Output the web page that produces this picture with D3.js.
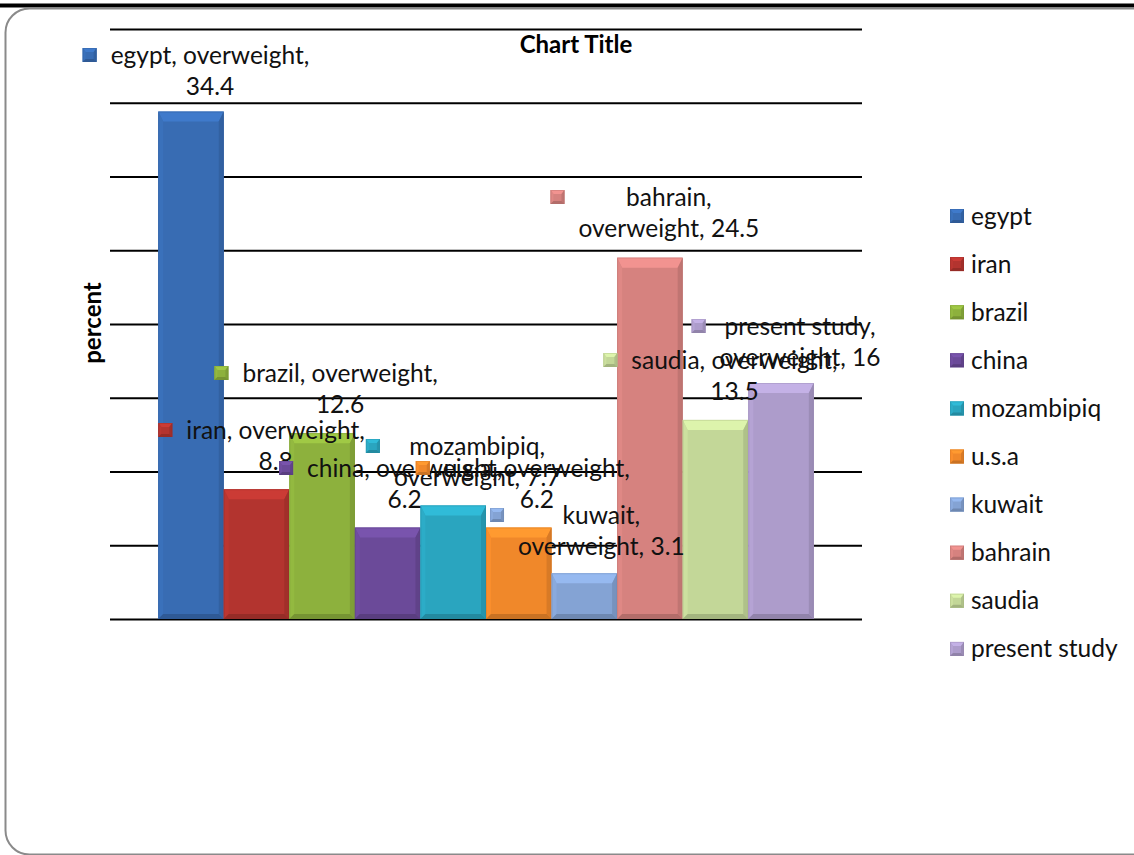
<!DOCTYPE html>
<html>
<head>
<meta charset="utf-8">
<script src="https://cdn.jsdelivr.net/npm/d3@7"></script>
<style>
  html, body { margin: 0; padding: 0; background: #ffffff; }
  svg { display: block; font-family: Lato, "Open Sans", sans-serif; }
</style>
</head>
<body>
<svg id="chart" width="1134" height="855"></svg>
<script>
// Overweight prevalence (percent) by study population
const categories = ["egypt", "iran", "brazil", "china", "mozambipiq", "u.s.a", "kuwait", "bahrain", "saudia", "present study"];
const values = [34.4, 8.8, 12.6, 6.2, 7.7, 6.2, 3.1, 24.5, 13.5, 16];
const seriesName = "overweight";
const gridTicks = [0, 5, 10, 15, 20, 25, 30, 35, 40];
const barColors = ["#386cb3", "#b3342f", "#8db13d", "#6b4a99", "#2aa5bf", "#f0882a", "#84a3d4", "#d6827f", "#c3d798", "#ad9ccb"];

// Data label placement: shift from bar centre, centre of first text line, wrap style
const labelLayout = [
  { dx: 19, y: 55,  wrap: "afterSeries" },
  { dx: 19, y: 430, wrap: "afterSeries" },
  { dx: 18, y: 373, wrap: "afterSeries" },
  { dx: 17, y: 468, wrap: "afterSeries" },
  { dx: 24, y: 446, wrap: "afterName" },
  { dx: 18, y: 468, wrap: "afterSeries" },
  { dx: 17, y: 515, wrap: "afterName" },
  { dx: 19, y: 197, wrap: "afterName" },
  { dx: 19, y: 360, wrap: "afterSeries" },
  { dx: 19, y: 326, wrap: "afterName" }
];

const W = 1134, H = 855;
const plot = { left: 110, right: 862, top: 29, bottom: 619 };
const fontSize = 24.5;
const lineGap = 31.5;

const svg = d3.select("#chart");

// outer frame
svg.append("rect").attr("x", 0).attr("y", 3.5).attr("width", W).attr("height", 4).attr("fill", "#000");
svg.append("rect")
  .attr("x", 5.5).attr("y", 8.5).attr("width", 1160).attr("height", 846)
  .attr("rx", 24).attr("ry", 24)
  .attr("fill", "none").attr("stroke", "#8a8a8a").attr("stroke-width", 2);

const x = d3.scaleBand()
  .domain(categories)
  .range([plot.left, plot.right])
  .paddingInner(0)
  .paddingOuter(0.735);

const y = d3.scaleLinear()
  .domain([0, 40])
  .range([plot.bottom, plot.top]);

// horizontal gridlines (no tick labels)
const yAxis = d3.axisLeft(y).tickValues(gridTicks).tickSize(-(plot.right - plot.left)).tickFormat("");
const ga = svg.append("g").attr("transform", `translate(${plot.left},0)`).call(yAxis);
ga.select(".domain").remove();
ga.selectAll(".tick line").attr("stroke", "#000").attr("stroke-width", 2);

// bevelled box like an Office "circle" bevel
function bevelBox(g, bx, by, bw, bh, color, bt, bs, bb) {
  const c = d3.color(color);
  g.append("rect").attr("x", bx).attr("y", by).attr("width", bw).attr("height", bh).attr("fill", c.formatHex());
  const poly = (pts, fill) => g.append("polygon").attr("points", pts.map(p => p.join(",")).join(" ")).attr("fill", fill);
  poly([[bx, by], [bx + bw, by], [bx + bw - bs, by + bt], [bx + bs, by + bt]], c.brighter(0.35).formatHex());
  poly([[bx, by], [bx + bs, by + bt], [bx + bs, by + bh - bb], [bx, by + bh]], c.brighter(0.12).formatHex());
  poly([[bx + bw, by], [bx + bw - bs, by + bt], [bx + bw - bs, by + bh - bb], [bx + bw, by + bh]], c.darker(0.3).formatHex());
  poly([[bx, by + bh], [bx + bs, by + bh - bb], [bx + bw - bs, by + bh - bb], [bx + bw, by + bh]], c.darker(0.5).formatHex());
  g.append("rect").attr("x", bx + 0.5).attr("y", by + 0.5).attr("width", bw - 1).attr("height", bh - 1)
    .attr("fill", "none").attr("stroke", c.darker(0.5).formatHex()).attr("stroke-opacity", 0.35);
}

// bars
const barsG = svg.append("g");
categories.forEach((cat, i) => {
  const g = barsG.append("g");
  const bx = x(cat), bw = x.bandwidth();
  const by = y(values[i]), bh = y(0) - y(values[i]);
  bevelBox(g, bx, by, bw, bh, barColors[i], Math.min(10, bh / 3), 5, 5);
});

// data labels with legend keys
const labelsG = svg.append("g");
categories.forEach((cat, i) => {
  const lay = labelLayout[i];
  const lines = lay.wrap === "afterName"
    ? [`${cat},`, `${seriesName}, ${values[i]}`]
    : [`${cat}, ${seriesName},`, `${values[i]}`];
  const cx = x(cat) + x.bandwidth() / 2 + lay.dx;
  const g = labelsG.append("g");
  const texts = lines.map((t, k) => g.append("text")
    .attr("x", cx).attr("y", lay.y + k * lineGap)
    .attr("dy", "0.35em")
    .attr("text-anchor", "middle")
    .attr("font-size", fontSize)
    .attr("fill", "#111")
    .text(t));
  const maxW = d3.max(texts, t => t.node().getComputedTextLength());
  const kx = cx - maxW / 2 - 28;
  const kg = g.insert("g", "text");
  bevelBox(kg, kx, lay.y - 7, 14, 14, barColors[i], 4, 3, 3);
});

// title
svg.append("text")
  .attr("x", 576).attr("y", 45).attr("dy", "0.35em")
  .attr("text-anchor", "middle")
  .attr("font-size", 24).attr("font-weight", "bold").attr("fill", "#000")
  .text("Chart Title");

// y-axis title
svg.append("text")
  .attr("transform", "translate(93,323) rotate(-90)")
  .attr("dy", "0.35em")
  .attr("text-anchor", "middle")
  .attr("font-size", 24).attr("font-weight", "bold").attr("fill", "#000")
  .text("percent");

// legend
const legend = svg.append("g");
categories.forEach((cat, i) => {
  const cy = 216 + i * 48.1;
  const g = legend.append("g");
  bevelBox(g, 950, cy - 7, 14, 14, barColors[i], 4, 3, 3);
  g.append("text").attr("x", 971).attr("y", cy).attr("dy", "0.35em")
    .attr("font-size", fontSize).attr("fill", "#111").text(cat);
});
</script>
</body>
</html>
